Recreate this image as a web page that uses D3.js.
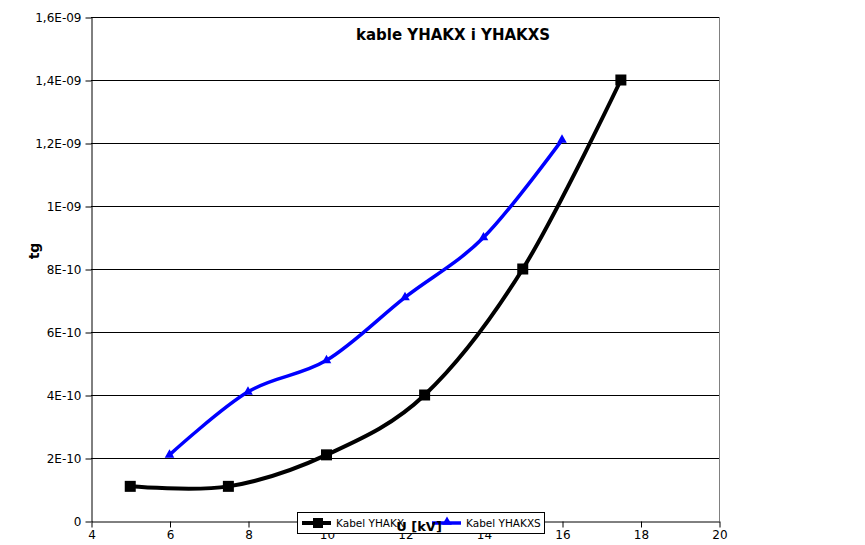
<!DOCTYPE html>
<html><head><meta charset="utf-8">
<script src="https://cdn.jsdelivr.net/npm/d3@7"></script>
<style>body{margin:0;background:#fff}svg{display:block}text{font-family:"DejaVu Sans",sans-serif}</style>
</head><body><svg id="c" width="865" height="545"></svg>
<script>
const yhakxX = [5, 7.5, 10, 12.5, 15, 17.5];
const yhakxY = [1.1e-10, 1.1e-10, 2.1e-10, 4.0e-10, 8.0e-10, 1.4e-9];
const yhakxsX = [6, 8, 10, 12, 14, 16];
const yhakxsY = [2.1e-10, 4.1e-10, 5.1e-10, 7.1e-10, 9.0e-10, 1.21e-9];
const xTicks = [4, 6, 8, 10, 12, 14, 16, 18, 20];
const yTicks = [0, 2e-10, 4e-10, 6e-10, 8e-10, 1e-9, 1.2e-9, 1.4e-9, 1.6e-9];
const yTickLabels = ["0", "2E-10", "4E-10", "6E-10", "8E-10", "1E-09", "1,2E-09", "1,4E-09", "1,6E-09"];
const seriesNames = ["Kabel YHAKX", "Kabel YHAKXS"];

const svg = d3.select("#c");
const L = 91, R = 719, T = 17, B = 521;
const x = d3.scaleLinear().domain([4, 20]).range([L, R]);
const y = d3.scaleLinear().domain([0, 1.6e-9]).range([B, T]);

// gridlines
svg.append("g").selectAll("line").data(yTicks.slice(1)).join("line")
  .attr("x1", L).attr("x2", R).attr("y1", d => Math.round(y(d)) + 0.5).attr("y2", d => Math.round(y(d)) + 0.5)
  .attr("stroke", "#000").attr("stroke-width", 1);
// right border
svg.append("line").attr("x1", R + 0.5).attr("x2", R + 0.5).attr("y1", T).attr("y2", B).attr("stroke", "#808080");

// axes
const yAxis = d3.axisLeft(y).tickValues(yTicks).tickFormat((d, i) => yTickLabels[i]).tickSize(6).tickSizeOuter(0);
const gy = svg.append("g").attr("transform", `translate(${L + 0.5},0.5)`).call(yAxis);
const xAxis = d3.axisBottom(x).tickValues(xTicks).tickFormat(d3.format("d")).tickSize(6).tickSizeOuter(0);
const gx = svg.append("g").attr("transform", `translate(0.5,${B + 0.5})`).call(xAxis);
[gx, gy].forEach(g => {
  g.selectAll("path,line").attr("stroke", "#000").attr("stroke-width", 1);
  g.selectAll("text").attr("font-size", 12).attr("fill", "#000").attr("font-family", "DejaVu Sans");
});
gy.selectAll("text").attr("x", -10);
gx.selectAll("text").attr("y", 9);

const line = d3.line().x(d => x(d[0])).y(d => y(d[1])).curve(d3.curveCatmullRom.alpha(0));
const s1 = yhakxX.map((v, i) => [v, yhakxY[i]]);
const s2 = yhakxsX.map((v, i) => [v, yhakxsY[i]]);

svg.append("path").attr("d", line(s2)).attr("fill", "none").attr("stroke", "#0000ff").attr("stroke-width", 3.5);
svg.append("path").attr("d", line(s1)).attr("fill", "none").attr("stroke", "#000").attr("stroke-width", 4);

const tri = d3.symbol().type(d3.symbolTriangle).size(40);
svg.append("g").selectAll("path").data(s2).join("path")
  .attr("transform", d => `translate(${x(d[0])},${y(d[1])})`).attr("d", tri).attr("fill", "#0000ff");
svg.append("g").selectAll("rect").data(s1).join("rect")
  .attr("x", d => x(d[0]) - 5.5).attr("y", d => y(d[1]) - 5.5).attr("width", 11).attr("height", 11).attr("fill", "#000");

// title
svg.append("text").attr("x", 453).attr("y", 40).attr("text-anchor", "middle")
  .attr("font-size", 15).attr("font-weight", "bold").text("kable YHAKX i YHAKXS");
// y title
svg.append("text").attr("transform", "translate(39,251) rotate(-90)").attr("text-anchor", "middle")
  .attr("font-size", 14).attr("font-weight", "bold").text("tg");

// legend
const lg = svg.append("g");
lg.append("rect").attr("x", 297.5).attr("y", 512.5).attr("width", 247).attr("height", 21).attr("fill", "#fff").attr("stroke", "#000");
lg.append("line").attr("x1", 302).attr("x2", 331).attr("y1", 523).attr("y2", 523).attr("stroke", "#000").attr("stroke-width", 4);
lg.append("rect").attr("x", 313).attr("y", 518).attr("width", 10).attr("height", 10).attr("fill", "#000");
lg.append("text").attr("x", 336).attr("y", 527).attr("font-size", 10.5).text(seriesNames[0]);
lg.append("line").attr("x1", 432).attr("x2", 461).attr("y1", 523).attr("y2", 523).attr("stroke", "#0000ff").attr("stroke-width", 3.5);
lg.append("path").attr("transform", "translate(447,522)").attr("d", tri).attr("fill", "#0000ff");
lg.append("text").attr("x", 466).attr("y", 527).attr("font-size", 10.5).text(seriesNames[1]);

// x title (drawn over legend as in reference)
svg.append("text").attr("x", 419).attr("y", 531).attr("text-anchor", "middle")
  .attr("font-size", 13).attr("font-weight", "bold").text("U [kV]");
</script></body></html>
